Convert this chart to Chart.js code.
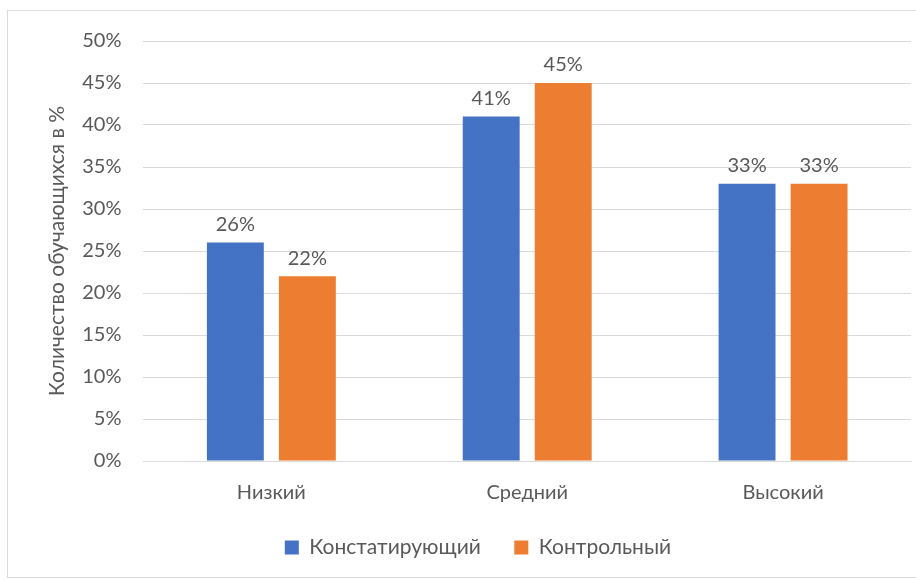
<!DOCTYPE html>
<html>
<head>
<meta charset="utf-8">
<script src="https://cdn.jsdelivr.net/npm/chart.js@4.4.1/dist/chart.umd.min.js"></script>
<style>
  html, body { margin: 0; padding: 0; background: #fff; }
  #box {
    position: absolute;
    left: 7px; top: 10px;
    width: 920px; height: 568px;
    border: 1px solid #d9d9d9;
    box-sizing: border-box;
    overflow: hidden;
  }
  #wrap { position: absolute; left: 0; top: -4px; width: 909px; height: 570px; }
</style>
</head>
<body>
<div id="box"><div id="wrap"><canvas id="c"></canvas></div></div>
<script>
var categories = ["Низкий", "Средний", "Высокий"];
var seriesNames = ["Констатирующий", "Контрольный"];
var initialValues = [26, 41, 33];
var controlValues = [22, 45, 33];
var yTicks = [0, 5, 10, 15, 20, 25, 30, 35, 40, 45, 50];

var FONT = "Lato, 'Open Sans', sans-serif";
var TEXT = "#595959";

// draws "NN%" above each bar, from the bar elements the library laid out
var barLabels = {
    id: "barLabels",
    afterDatasetsDraw: function(chart) {
        var ctx = chart.ctx;
        ctx.save();
        ctx.font = "20px " + FONT;
        ctx.fillStyle = TEXT;
        ctx.textAlign = "center";
        ctx.textBaseline = "bottom";
        chart.data.datasets.forEach(function(ds, i) {
            chart.getDatasetMeta(i).data.forEach(function(bar, j) {
                ctx.fillText(ds.data[j] + "%", bar.x, bar.y - 8);
            });
        });
        ctx.restore();
    }
};

var defaultLegendLabels = Chart.defaults.plugins.legend.labels.generateLabels;

new Chart(document.getElementById("c"), {
    type: "bar",
    data: {
        labels: categories,
        datasets: [{
            label: seriesNames[0],
            data: initialValues,
            backgroundColor: "#4472C4"
        }, {
            label: seriesNames[1],
            data: controlValues,
            backgroundColor: "#ED7D31"
        }]
    },
    options: {
        responsive: true,
        maintainAspectRatio: false,
        animation: false,
        categoryPercentage: 0.563,
        barPercentage: 0.79,
        layout: { padding: { left: 37, right: 6, top: 12, bottom: 9 } },
        plugins: {
            tooltip: { enabled: false },
            legend: {
                position: "bottom",
                labels: {
                    font: { family: FONT, size: 21 },
                    color: TEXT,
                    boxWidth: 14,
                    boxHeight: 14,
                    padding: 12,
                    // wider gap between the two entries, like the original
                    generateLabels: function(chart) {
                        var items = defaultLegendLabels(chart);
                        items[0].text = items[0].text + "    ";
                        return items;
                    }
                }
            }
        },
        scales: {
            x: {
                grid: { display: false, drawTicks: false },
                border: { color: "#d9d9d9" },
                ticks: { font: { family: FONT, size: 20 }, color: TEXT, padding: 20 }
            },
            y: {
                min: 0,
                max: 50,
                afterBuildTicks: function(axis) {
                    axis.ticks = yTicks.map(function(v) { return { value: v }; });
                },
                // pull the axis title a bit closer to the tick labels
                afterFit: function(axis) {
                    axis.width -= 10;
                },
                grid: { color: "#d9d9d9", drawTicks: false },
                border: { display: false },
                ticks: {
                    font: { family: FONT, size: 20 },
                    color: TEXT,
                    padding: 22,
                    callback: function(v) { return v + "%"; }
                },
                title: {
                    display: true,
                    text: "Количество обучающихся в %",
                    font: { family: FONT, size: 21 },
                    color: TEXT,
                    padding: { top: 0, bottom: 0 }
                }
            }
        }
    },
    plugins: [barLabels]
});
</script>
</body>
</html>
